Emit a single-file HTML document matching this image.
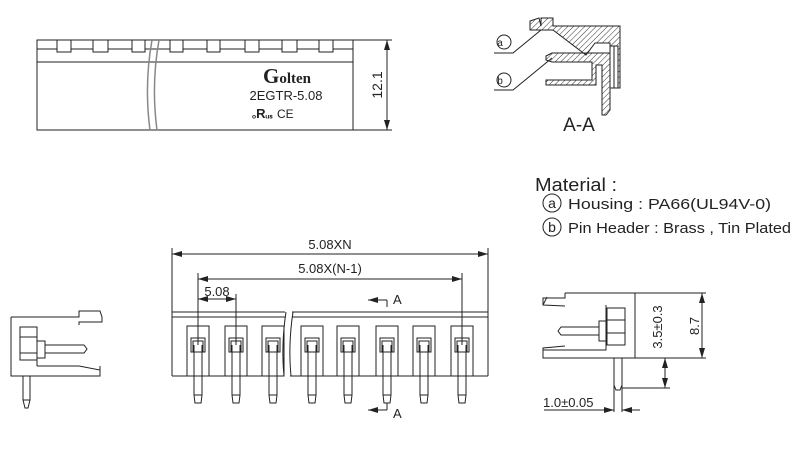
<!DOCTYPE html>
<html><head><meta charset="utf-8"><style>
html,body{margin:0;padding:0;background:#fff;width:811px;height:462px;overflow:hidden}
svg{display:block}
text{font-family:"Liberation Sans",sans-serif;fill:#222}
text.serif{font-family:"Liberation Serif",serif;font-weight:bold}
</style></head><body>
<svg width="811" height="462" viewBox="0 0 811 462" xmlns="http://www.w3.org/2000/svg">
<defs>
<pattern id="h" width="4" height="4" patternUnits="userSpaceOnUse" patternTransform="rotate(45)">
<line x1="0" y1="0" x2="0" y2="4" stroke="#333" stroke-width="1"/></pattern>
<marker id="ar" viewBox="0 0 10 6" refX="10" refY="3" markerWidth="10" markerHeight="6" orient="auto-start-reverse" markerUnits="userSpaceOnUse"><path d="M0,0 L10,3 L0,6z" fill="#222"/></marker>
</defs>
<g fill="none" stroke="#222" stroke-width="1">
<!-- top view -->
<rect x="37" y="40" width="316" height="90"/>
<line x1="37" y1="62" x2="353" y2="62"/>
<line x1="37" y1="49" x2="353" y2="49"/>
<g fill="#fff">
<rect x="57" y="40" width="14" height="12"/><rect x="93" y="40" width="15" height="12"/><rect x="132" y="40" width="13" height="12"/><rect x="170" y="40" width="13" height="12"/><rect x="207" y="40" width="13" height="12"/><rect x="245" y="40" width="14" height="12"/><rect x="282" y="40" width="15" height="12"/><rect x="319" y="40" width="14" height="12"/>
</g>
<path d="M152,40 Q144,85 150,130 M159,40 Q151,85 157,130" stroke="#888" stroke-width="1.5"/>
<line x1="353" y1="40" x2="392" y2="40"/><line x1="353" y1="130" x2="392" y2="130"/>
<line x1="387" y1="40" x2="387" y2="130" marker-start="url(#ar)" marker-end="url(#ar)"/>

<!-- front view -->
<path d="M172,312 H285 M292,312 H488 M172,317 H285 M292,317 H488 M172,376 H283 M290,376 H488 M172,312 V376 M488,312 V376"/>
<path d="M286,312 Q281,345 284,376 M293,312 Q288,345 291,376"/>
<g id="pins">
<g transform="translate(198,0)"><rect x="-11" y="326" width="22" height="50"/><rect x="-7" y="338" width="14" height="14"/><rect x="-5" y="341" width="10" height="11"/><path d="M-4,345 V395 L-3,403 H3 L4,395 V345"/><line x1="-4" y1="395" x2="4" y2="395"/></g>
</g>
<use href="#pins" x="38"/><use href="#pins" x="75"/><use href="#pins" x="114"/><use href="#pins" x="150"/><use href="#pins" x="189"/><use href="#pins" x="226"/><use href="#pins" x="264"/>
<line x1="172" y1="248" x2="172" y2="312"/><line x1="488" y1="248" x2="488" y2="312"/>
<line x1="172" y1="254" x2="488" y2="254" marker-start="url(#ar)" marker-end="url(#ar)"/>
<line x1="198" y1="273" x2="198" y2="345"/><line x1="462" y1="273" x2="462" y2="345"/>
<line x1="198" y1="279" x2="462" y2="279" marker-start="url(#ar)" marker-end="url(#ar)"/>
<line x1="236" y1="294" x2="236" y2="345"/>
<line x1="198" y1="299" x2="236" y2="299" marker-start="url(#ar)" marker-end="url(#ar)"/>
<line x1="387" y1="300" x2="368" y2="300" marker-end="url(#ar)"/><line x1="387" y1="300" x2="387" y2="307"/>
<line x1="387" y1="410" x2="368" y2="410" marker-end="url(#ar)"/><line x1="387" y1="403" x2="387" y2="410"/>

<!-- A-A section -->
<path d="M530,21 L539,18 L541,26 V18 H553 V26 H620 V88 H610 V43 L595,43 L586,55 L553,30 H541 L530,30 Z" fill="url(#h)"/>
<path d="M546,56 L552,53 H610 V110 L606,115 H602 V65 H596 V85 H546 V80 H592 V62 H552 L546,60 Z" fill="url(#h)"/>
<rect x="610" y="46" width="8" height="42" fill="#fff"/>
<line x1="614" y1="46" x2="614" y2="88"/>
<circle cx="504" cy="42" r="7"/><path d="M494,53 H513 L541,30"/>
<circle cx="504" cy="80" r="7"/><path d="M494,90 H513 L552,58"/>
<!-- material circles -->
<circle cx="552" cy="203" r="9"/><circle cx="552" cy="227" r="9"/>

<!-- left side view -->
<path d="M11,317 H79 V311 H100 L102,317 V322 H79 L79,325 M11,317 V376 H100 V370 L79,366 H37 M100,366 V376"/>
<path d="M20,327 H37 V360 H20 Z M20,337 H37 M20,353 H37 M20,360 H37 M37,327 V366 M37,341 H45 V358 H37 M45,345 H84 L87,349 L84,353 H45"/>
<path d="M23,376 V400 L25,408 H28 L30,400 V376 M23,400 H30"/>

<!-- right side view -->
<path d="M565,293 H635 V358 H543 V348 L565,346 M565,293 V298 H543 L543,305 L565,306 M543,305 L547,297"/>
<path d="M607,308 H625 V345 H607 Z M607,320 H625 M607,333 H625 M599,321 H607 V341 H599 Z M599,327 H561 L558,331 L561,335 H599 M606,305 V350 L543,350"/>
<path d="M614,358 V412 M622,358 V412 M614,385 L616,390 H620 L622,385"/>
<line x1="635" y1="293" x2="706" y2="293"/><line x1="635" y1="358" x2="706" y2="358"/>
<line x1="702" y1="293" x2="702" y2="358" marker-start="url(#ar)" marker-end="url(#ar)"/>
<line x1="665" y1="358" x2="665" y2="388" marker-start="url(#ar)" marker-end="url(#ar)"/>
<line x1="622" y1="388" x2="670" y2="388"/>
<line x1="544" y1="410" x2="614" y2="410" marker-end="url(#ar)"/>
<line x1="640" y1="410" x2="622" y2="410" marker-end="url(#ar)"/>
</g>
<text class="serif" x="287" y="83" font-size="15" text-anchor="middle"><tspan font-size="21">G</tspan>olten</text>
<text x="286" y="100" font-size="13" text-anchor="middle">2EGTR-5.08</text>
<text x="252" y="118" font-size="10" font-weight="bold">ₒ<tspan font-size="13">R</tspan>ᵤₛ</text>
<text x="277" y="118" font-size="12">CE</text>
<text transform="translate(382,85) rotate(-90)" font-size="14" text-anchor="middle">12.1</text>
<text x="330" y="249" font-size="13" text-anchor="middle">5.08XN</text>
<text x="330" y="273" font-size="13" text-anchor="middle">5.08X(N-1)</text>
<text x="217" y="296" font-size="13" text-anchor="middle">5.08</text>
<text x="393" y="304" font-size="13">A</text>
<text x="393" y="418" font-size="13">A</text>
<text x="500" y="46" font-size="10" text-anchor="middle">a</text>
<text x="500" y="84" font-size="10" text-anchor="middle">b</text>
<text x="579" y="131" font-size="19" text-anchor="middle">A-A</text>
<text x="535" y="191" font-size="18" textLength="82" lengthAdjust="spacingAndGlyphs">Material :</text>
<text x="552" y="208" font-size="14" text-anchor="middle">a</text>
<text x="552" y="232" font-size="14" text-anchor="middle">b</text>
<text x="568" y="209" font-size="15" textLength="203" lengthAdjust="spacingAndGlyphs">Housing : PA66(UL94V-0)</text>
<text x="568" y="233" font-size="15" textLength="223" lengthAdjust="spacingAndGlyphs">Pin Header : Brass , Tin Plated</text>
<text transform="translate(662,327) rotate(-90)" font-size="13" text-anchor="middle">3.5±0.3</text>
<text transform="translate(699,326) rotate(-90)" font-size="13" text-anchor="middle">8.7</text>
<text x="543" y="407" font-size="13">1.0±0.05</text>
</svg>
</body></html>
